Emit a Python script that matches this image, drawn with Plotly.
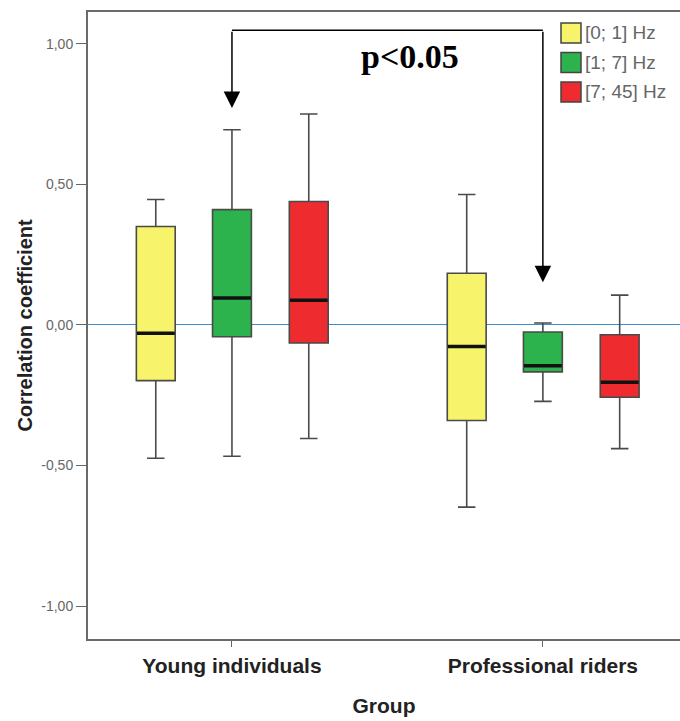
import plotly.graph_objects as go

# ---------------- data ----------------
groups = ["Young individuals", "Professional riders"]
bands = ["[0; 1] Hz", "[1; 7] Hz", "[7; 45] Hz"]
band_colors = ["#F7F36B", "#2DB34D", "#EE2C30"]

# per band: values for [Young individuals, Professional riders]
upper_whisker = [[0.446, 0.464], [0.694, 0.007], [0.750, 0.106]]
q3_values = [[0.350, 0.184], [0.410, -0.025], [0.439, -0.035]]
median_values = [[-0.030, -0.077], [0.096, -0.145], [0.088, -0.204]]
q1_values = [[-0.198, -0.340], [-0.042, -0.167], [-0.064, -0.257]]
lower_whisker = [[-0.474, -0.648], [-0.467, -0.272], [-0.404, -0.440]]

ytick_vals = [-1.0, -0.5, 0.0, 0.5, 1.0]
ytick_text = ["-1,00", "-0,50", "0,00", "0,50", "1,00"]
significance_text = "p<0.05"

# ---------------- layout helpers ----------------
W, H = 680, 721
M_L, M_R, M_T, M_B = 88, 0, 12, 82
band_offsets = [-0.245, 0.0, 0.247]
box_width = 0.125
group_pos = list(range(len(groups)))

fig = go.Figure()

for k, band in enumerate(bands):
    xs = [g + band_offsets[k] for g in group_pos]
    fig.add_trace(go.Box(
        name=band,
        x=xs,
        q1=q1_values[k],
        median=median_values[k],
        q3=q3_values[k],
        lowerfence=lower_whisker[k],
        upperfence=upper_whisker[k],
        width=box_width,
        fillcolor=band_colors[k],
        line=dict(color="#4a4a4a", width=1.6),
        whiskerwidth=0.45,
        boxpoints=False,
        showlegend=False,
        hoverinfo="skip",
    ))

# thick black median bars
for k, band in enumerate(bands):
    xs = [g + band_offsets[k] for g in group_pos]
    fig.add_trace(go.Scatter(
        x=xs, y=median_values[k], mode="markers",
        marker=dict(symbol="line-ew", size=27, color="#111111",
                    line=dict(width=3.5, color="#111111")),
        showlegend=False, hoverinfo="skip",
    ))

# significance bracket (between the [1; 7] Hz boxes)
left_x = group_pos[0] + band_offsets[1]
right_x = group_pos[1] + band_offsets[1]
bracket_y = 1.048
fig.add_shape(type="line", xref="x", yref="y",
              x0=left_x, x1=right_x, y0=bracket_y, y1=bracket_y,
              line=dict(color="black", width=1.6))
for xx, tip in [(left_x, 0.772), (right_x, 0.152)]:
    fig.add_annotation(x=xx, y=tip, ax=xx, ay=bracket_y,
                       xref="x", yref="y", axref="x", ayref="y",
                       text="", showarrow=True, arrowhead=2, arrowsize=2.2,
                       arrowwidth=1.5, arrowcolor="black", standoff=0)

fig.add_annotation(x=0.572, y=0.956, xref="x", yref="y", text=significance_text,
                   showarrow=False,
                   font=dict(family="Liberation Serif, Times New Roman", size=34,
                             color="black", weight="bold"))

# legend (swatches + labels) placed in the top-right corner of the plot
pw, ph = W - M_L - M_R, H - M_T - M_B
def px_to_paper(xp, yp):
    return (xp - M_L) / pw, 1 - (yp - M_T) / ph

sw_left, sw_size, row_top0, row_step = 561, 20, 23, 29.5
for k, band in enumerate(bands):
    top = row_top0 + k * row_step
    x0, y0 = px_to_paper(sw_left, top + sw_size)
    x1, y1 = px_to_paper(sw_left + sw_size, top)
    fig.add_shape(type="rect", xref="paper", yref="paper",
                  x0=x0, x1=x1, y0=y0, y1=y1,
                  fillcolor=band_colors[k], line=dict(color="#444", width=1.5))
    tx, ty = px_to_paper(sw_left + sw_size + 2, top + sw_size / 2)
    fig.add_annotation(x=tx, y=ty, xref="paper", yref="paper", text=band,
                       showarrow=False, xanchor="left", yanchor="middle",
                       font=dict(size=19, color="#666"))

fig.update_layout(
    width=W, height=H,
    margin=dict(l=M_L, r=M_R, t=M_T, b=M_B),
    paper_bgcolor="white", plot_bgcolor="white",
    font=dict(family="Liberation Sans, Arial", color="#333"),
    showlegend=False,
    xaxis=dict(range=[-0.463, 1.441], tickmode="array", tickvals=group_pos,
               ticktext=groups, ticks="outside", ticklen=6, tickcolor="#666",
               tickfont=dict(size=21, color="#222", weight="bold"),
               ticklabelstandoff=1,
               showline=True, linecolor="#6a6a6a", linewidth=2, mirror=True,
               showgrid=False, zeroline=False,
               title=dict(text="Group", font=dict(size=21, color="#222", weight="bold"),
                          standoff=22)),
    yaxis=dict(range=[-1.117, 1.113], tickmode="array", tickvals=ytick_vals,
               ticktext=ytick_text, ticks="outside", ticklen=10, tickcolor="#666",
               tickfont=dict(size=14, color="#666"),
               showline=True, linecolor="#6a6a6a", linewidth=2,
               showgrid=False, zeroline=True, zerolinecolor="#3C8DCC", zerolinewidth=1,
               title=dict(text="Correlation coefficient",
                          font=dict(size=20, color="#222", weight="bold"),
                          standoff=3)),
)

fig.write_html("out.html",
               config={"displayModeBar": False},
               post_script="document.body.style.margin='0';document.body.style.overflow='hidden';")
